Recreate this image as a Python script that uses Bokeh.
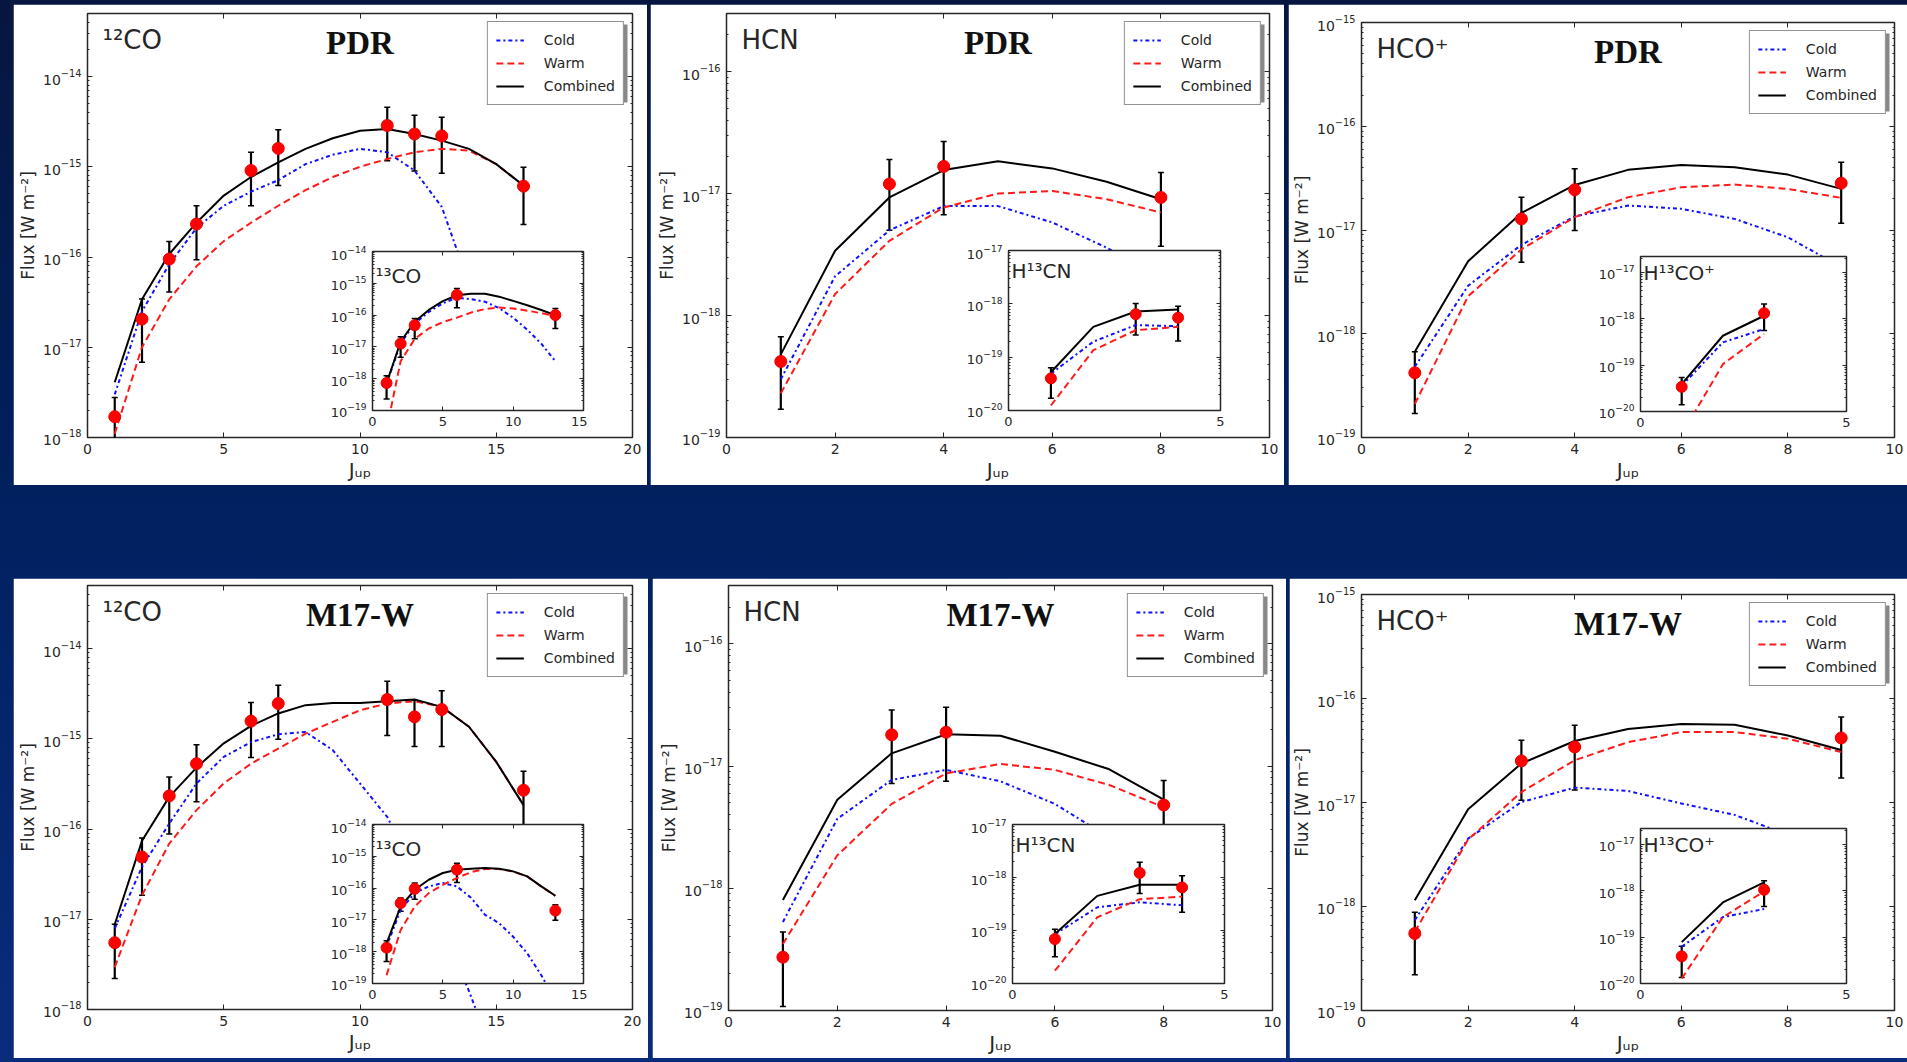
from bokeh.plotting import figure
from bokeh.models import (GridBox, Div, Range1d, FixedTicker, LinearAxis, LogAxis, Label,
                          Legend, LegendItem, Whisker, TeeHead, ColumnDataSource, BoxAnnotation,
                          CustomJSTickFormatter)
from bokeh.embed import file_html
from bokeh.resources import INLINE

# ---------------------------------------------------------------- data
# upper rotational level of each model grid
J_CO = list(range(1, 17))
J_CO13 = list(range(1, 14))
J_HCN = list(range(1, 9))
J_HCO = list(range(1, 10))
J_H13CN = [1, 2, 3, 4]
J_H13CO = [1, 2, 3]

# 12CO, PDR  (fluxes in W m^-2)
co_pdr_cold = [3.0e-18, 2.5e-17, 8.3e-17, 2.1e-16, 3.7e-16, 5.3e-16, 7.1e-16, 1.07e-15,
               1.36e-15, 1.58e-15, 1.45e-15, 9.1e-16, 3.6e-16, 5.0e-17, 1.2e-17, 3.0e-18]
co_pdr_warm = [1.1e-18, 1.0e-17, 3.4e-17, 7.9e-17, 1.5e-16, 2.4e-16, 3.7e-16, 5.5e-16,
               7.7e-16, 1.0e-15, 1.22e-15, 1.45e-15, 1.58e-15, 1.51e-15, 1.07e-15, 6.2e-16]
co_pdr_comb = [4.1e-18, 3.4e-17, 1.08e-16, 2.4e-16, 4.8e-16, 7.7e-16, 1.12e-15, 1.58e-15,
               2.07e-15, 2.51e-15, 2.63e-15, 2.31e-15, 1.95e-15, 1.58e-15, 1.07e-15, 6.2e-16]
co_pdr_obs_j = [1, 2, 3, 4, 6, 7, 11, 12, 13, 16]
co_pdr_obs = [1.7e-18, 2.05e-17, 9.5e-17, 2.32e-16, 9.1e-16, 1.6e-15, 2.87e-15, 2.31e-15, 2.2e-15, 6.1e-16]
co_pdr_err = [1.08e-18, 1.37e-17, 5.4e-17, 1.39e-16, 5.4e-16, 9.8e-16, 1.7e-15, 1.41e-15, 1.35e-15, 3.8e-16]

# 13CO, PDR
co13_pdr_cold = [6.9e-19, 1.29e-17, 5.5e-17, 1.26e-16, 2.34e-16, 3.55e-16, 3.16e-16, 2.63e-16,
                 1.66e-16, 8.3e-17, 3.47e-17, 1.26e-17, 3.55e-18]
co13_pdr_warm = [2.5e-20, 3.55e-18, 1.78e-17, 3.8e-17, 6.0e-17, 8.3e-17, 1.2e-16, 1.55e-16,
                 1.74e-16, 1.62e-16, 1.38e-16, 1.15e-16, 9.3e-17]
co13_pdr_comb = [7.2e-19, 1.45e-17, 6.2e-17, 1.45e-16, 2.75e-16, 4.2e-16, 4.7e-16, 4.7e-16,
                 3.8e-16, 2.8e-16, 2.04e-16, 1.45e-16, 1.0e-16]
co13_pdr_obs_j = [1, 2, 3, 6, 13]
co13_pdr_obs = [7.3e-19, 1.27e-17, 4.8e-17, 4.3e-16, 1.0e-16]
co13_pdr_err = [5.0e-19, 8.0e-18, 3.0e-17, 2.6e-16, 6.2e-17]

# HCN, PDR
hcn_pdr_cold = [3.0e-19, 2.1e-18, 5.0e-18, 7.9e-18, 7.9e-18, 5.8e-18, 3.6e-18, 2.0e-18]
hcn_pdr_warm = [2.3e-19, 1.5e-18, 4.1e-18, 7.7e-18, 1.0e-17, 1.05e-17, 9.0e-18, 7.0e-18]
hcn_pdr_comb = [4.8e-19, 3.4e-18, 9.3e-18, 1.56e-17, 1.84e-17, 1.61e-17, 1.25e-17, 9.0e-18]
hcn_pdr_obs_j = [1, 3, 4, 8]
hcn_pdr_obs = [4.2e-19, 1.2e-17, 1.67e-17, 9.3e-18]
hcn_pdr_err = [2.5e-19, 7.0e-18, 1.0e-17, 5.6e-18]

# H13CN, PDR
h13cn_pdr_cold = [4.9e-20, 1.95e-19, 4.0e-19, 3.8e-19]
h13cn_pdr_warm = [1.24e-20, 1.35e-19, 3.2e-19, 3.7e-19]
h13cn_pdr_comb = [5.2e-20, 3.7e-19, 7.2e-19, 7.8e-19]
h13cn_pdr_obs_j = [1, 3, 4]
h13cn_pdr_obs = [4.0e-20, 6.4e-19, 5.5e-19]
h13cn_pdr_err = [2.3e-20, 3.8e-19, 3.5e-19]

# HCO+, PDR
hco_pdr_cold = [4.8e-19, 2.9e-18, 7.2e-18, 1.35e-17, 1.72e-17, 1.6e-17, 1.28e-17, 8.5e-18, 4.4e-18]
hco_pdr_warm = [2.1e-19, 2.3e-18, 6.5e-18, 1.33e-17, 2.07e-17, 2.58e-17, 2.74e-17, 2.49e-17, 2.04e-17]
hco_pdr_comb = [6.7e-19, 5.0e-18, 1.46e-17, 2.72e-17, 3.8e-17, 4.24e-17, 4.03e-17, 3.42e-17, 2.49e-17]
hco_pdr_obs_j = [1, 3, 4, 9]
hco_pdr_obs = [4.2e-19, 1.28e-17, 2.44e-17, 2.83e-17]
hco_pdr_err = [2.5e-19, 7.9e-18, 1.45e-17, 1.67e-17]

# H13CO+, PDR
h13co_pdr_cold = [3.55e-20, 3.1e-19, 6.0e-19]
h13co_pdr_warm = [3.2e-21, 1.05e-19, 4.7e-19]
h13co_pdr_comb = [3.9e-20, 4.3e-19, 1.16e-18]
h13co_pdr_obs_j = [1, 3]
h13co_pdr_obs = [3.4e-20, 1.32e-18]
h13co_pdr_err = [2.0e-20, 7.6e-19]

# 12CO, M17-W
co_m17_cold = [7.9e-18, 3.8e-17, 1.15e-16, 3.2e-16, 6.3e-16, 9.2e-16, 1.12e-15, 1.19e-15,
               7.5e-16, 3.2e-16, 1.36e-16, 3.5e-17, 7.9e-18, 1.6e-18, 2.5e-19, 3.2e-20]
co_m17_warm = [2.95e-18, 1.85e-17, 6.9e-17, 1.62e-16, 3.2e-16, 5.3e-16, 7.8e-16, 1.14e-15,
               1.54e-15, 2.07e-15, 2.46e-15, 2.61e-15, 2.26e-15, 1.36e-15, 5.55e-16, 1.84e-16]
co_m17_comb = [8.8e-18, 7.4e-17, 2.27e-16, 4.8e-16, 8.9e-16, 1.39e-15, 1.91e-15, 2.36e-15,
               2.5e-15, 2.5e-15, 2.61e-15, 2.72e-15, 2.26e-15, 1.36e-15, 5.55e-16, 1.84e-16]
co_m17_obs_j = [1, 2, 3, 4, 6, 7, 11, 12, 13, 16]
co_m17_obs = [5.5e-18, 4.9e-17, 2.33e-16, 5.3e-16, 1.57e-15, 2.46e-15, 2.72e-15, 1.75e-15, 2.11e-15, 2.69e-16]
co_m17_err = [3.3e-18, 3.06e-17, 1.45e-16, 3.3e-16, 9.5e-16, 1.47e-15, 1.63e-15, 9.3e-16, 1.29e-15, 1.67e-16]

# 13CO, M17-W
co13_m17_cold = [1.45e-18, 2.07e-17, 6.95e-17, 1.13e-16, 1.44e-16, 1.13e-16, 5.0e-17, 1.45e-17,
                 7.9e-18, 2.95e-18, 8.9e-19, 1.82e-19, 2.95e-20]
co13_m17_warm = [1.82e-19, 4.8e-18, 2.64e-17, 6.95e-17, 1.27e-16, 2.07e-16, 3.16e-16, 3.98e-16,
                 3.98e-16, 3.31e-16, 2.32e-16, 1.12e-16, 5.7e-17]
co13_m17_comb = [1.83e-18, 2.64e-17, 8.85e-17, 1.83e-16, 2.98e-16, 3.8e-16, 4.08e-16, 4.29e-16,
                 4.08e-16, 3.36e-16, 2.33e-16, 1.13e-16, 5.73e-17]
co13_m17_obs_j = [1, 2, 3, 6, 13]
co13_m17_obs = [1.34e-18, 3.36e-17, 9.5e-17, 3.8e-16, 1.97e-17]
co13_m17_err = [8.5e-19, 1.5e-17, 5.0e-17, 2.3e-16, 1.0e-17]

# HCN, M17-W
hcn_m17_cold = [5.3e-19, 3.7e-18, 7.7e-18, 9.3e-18, 7.5e-18, 4.9e-18, 2.6e-18, 1.6e-18]
hcn_m17_warm = [3.5e-19, 1.86e-18, 4.9e-18, 8.7e-18, 1.04e-17, 9.3e-18, 7.0e-18, 4.6e-18]
hcn_m17_comb = [8.0e-19, 5.3e-18, 1.27e-17, 1.82e-17, 1.77e-17, 1.31e-17, 9.4e-18, 5.3e-18]
hcn_m17_obs_j = [1, 3, 4, 8]
hcn_m17_obs = [2.73e-19, 1.8e-17, 1.89e-17, 4.8e-18]
hcn_m17_err = [1.65e-19, 1.08e-17, 1.14e-17, 2.8e-18]

# H13CN, M17-W
h13cn_m17_cold = [8.5e-20, 2.74e-19, 3.4e-19, 3.0e-19]
h13cn_m17_warm = [1.74e-20, 1.78e-19, 3.9e-19, 4.35e-19]
h13cn_m17_comb = [8.6e-20, 4.5e-19, 7.3e-19, 7.3e-19]
h13cn_m17_obs_j = [1, 3, 4]
h13cn_m17_obs = [6.9e-20, 1.22e-18, 6.5e-19]
h13cn_m17_err = [3.7e-20, 7.2e-19, 4.3e-19]

# HCO+, M17-W
hco_m17_cold = [7.4e-19, 4.5e-18, 1.01e-17, 1.39e-17, 1.29e-17, 9.8e-18, 7.6e-18, 4.9e-18, 2.6e-18]
hco_m17_warm = [5.7e-19, 4.4e-18, 1.26e-17, 2.55e-17, 3.8e-17, 4.76e-17, 4.76e-17, 4.1e-17, 3.06e-17]
hco_m17_comb = [1.15e-18, 8.6e-18, 2.37e-17, 3.9e-17, 5.1e-17, 5.7e-17, 5.6e-17, 4.4e-17, 3.2e-17]
hco_m17_obs_j = [1, 3, 4, 9]
hco_m17_obs = [5.5e-19, 2.51e-17, 3.42e-17, 4.18e-17]
hco_m17_err = [3.3e-19, 1.46e-17, 2.1e-17, 2.46e-17]

# H13CO+, M17-W
h13co_m17_cold = [6.2e-20, 2.7e-19, 4.05e-19]
h13co_m17_warm = [1.28e-20, 2.7e-19, 9.7e-19]
h13co_m17_comb = [7.8e-20, 5.6e-19, 1.51e-18]
h13co_m17_obs_j = [1, 3]
h13co_m17_obs = [3.85e-20, 1.05e-18]
h13co_m17_err = [2.5e-20, 5.9e-19]

# ---------------------------------------------------------------- styling
SANS = "DejaVu Sans"
SERIF = "Liberation Serif"
INK = "#262626"
COLD = dict(line_color="#1010ff", line_dash="4 3 2 3", line_width=2)
WARM = dict(line_color="#ff1a1a", line_dash="7 4", line_width=2)
COMB = dict(line_color="#000000", line_width=2)
LEG_W, LEG_H, LEG_GAP = 135, 78, 8


def decade_ticker(lo, hi):
    majors = [10.0 ** e for e in range(lo, hi + 1)]
    minors = [m * 10.0 ** e for e in range(lo - 1, hi + 1) for m in range(2, 10)]
    return FixedTicker(ticks=majors, minor_ticks=minors)


def style_axis(ax, ticker, font_px, tick_len):
    ax.ticker = ticker
    ax.axis_line_color = None
    ax.major_tick_in = tick_len
    ax.major_tick_out = 0
    ax.minor_tick_in = 2
    ax.minor_tick_out = 0
    ax.major_tick_line_color = INK
    ax.minor_tick_line_color = INK
    ax.major_label_text_font = SANS
    ax.major_label_text_color = INK
    if font_px:
        ax.major_label_text_font_size = f"{font_px}px"
        ax.major_label_standoff = 6
    else:
        # tick marks only: the opposite edges of the frame carry no numbers
        ax.formatter = CustomJSTickFormatter(code="return ''")
        ax.major_label_text_font_size = "1px"
        ax.major_label_standoff = 0


def framed_axes(p, x_ticks, y_lo, y_hi, font_px, tick_len):
    xt = FixedTicker(ticks=x_ticks, minor_ticks=[])
    yt = decade_ticker(y_lo, y_hi)
    style_axis(p.below[0], xt, font_px, tick_len)
    style_axis(p.left[0], yt, font_px, tick_len)
    top = LinearAxis()
    right = LogAxis()
    style_axis(top, xt, 0, tick_len)
    style_axis(right, yt, 0, tick_len)
    p.add_layout(top, "above")
    p.add_layout(right, "right")
    p.xgrid.visible = False
    p.ygrid.visible = False
    p.outline_line_color = INK
    p.outline_line_width = 1.5


def draw_series(p, j_model, cold, warm, comb, obs_j, obs_f, obs_e, marker):
    rc = p.line(j_model, cold, **COLD)
    rw = p.line(j_model, warm, **WARM)
    rk = p.line(j_model, comb, **COMB)
    src = ColumnDataSource(dict(
        j=obs_j, f=obs_f,
        upper=[f + e for f, e in zip(obs_f, obs_e)],
        lower=[f - e for f, e in zip(obs_f, obs_e)],
    ))
    p.add_layout(Whisker(source=src, base="j", upper="upper", lower="lower",
                         line_color="black", line_width=2.2,
                         upper_head=TeeHead(size=6, line_color="black", line_width=1.5),
                         lower_head=TeeHead(size=6, line_color="black", line_width=1.5)))
    p.scatter("j", "f", source=src, size=marker, fill_color="#ff0000", line_color="#ee0000")
    return rc, rw, rk


def text_label(p, x, y, text, size, font=SANS, style="normal", align="left", color=INK):
    p.add_layout(Label(x=x, y=y, x_units="screen", y_units="screen", text=text,
                       text_font=font, text_font_size=f"{size}px", text_font_style=style,
                       text_align=align, text_baseline="alphabetic", text_color=color))


def build_main(box, frame, x_end, x_ticks, y_lo, y_hi, y_top, series, species, region):
    bl, bt, br, bb = box
    fl, ft, fr, fb = frame
    fw, fh = fr - fl, fb - ft
    p = figure(width=br - bl, height=bb - bt,
               x_range=Range1d(-1e-4, x_end + 1e-4),
               y_range=Range1d(10.0 ** y_lo * 0.9995, y_top),
               y_axis_type="log", output_backend="svg", toolbar_location=None,
               min_border_left=fl - bl, min_border_right=br - fr,
               min_border_top=ft - bt, min_border_bottom=bb - fb,
               background_fill_color="white", border_fill_color="white")
    p.frame_align = False
    p.margin = (bt, 0, 0, bl)
    framed_axes(p, x_ticks, y_lo, y_hi, 14, 5)
    ax = p.left[0]
    ax.axis_label = "Flux [W m\u207b\u00b2]"
    ax.axis_label_text_font = SANS
    ax.axis_label_text_font_size = "17px"
    ax.axis_label_text_font_style = "normal"
    ax.axis_label_text_color = INK
    ax.axis_label_standoff = 2
    bx = p.below[0]
    bx.axis_label = "J\u1d64\u209a"
    bx.axis_label_text_font = SANS
    bx.axis_label_text_font_size = "20px"
    bx.axis_label_text_font_style = "normal"
    bx.axis_label_text_color = INK
    bx.axis_label_standoff = 1

    rc, rw, rk = draw_series(p, *series, marker=12)

    # legend with a drop shadow
    p.add_layout(BoxAnnotation(left=fw - LEG_GAP - LEG_W + 3, right=fw - LEG_GAP + 3,
                               top=fh - LEG_GAP - 3, bottom=fh - LEG_GAP - LEG_H - 3,
                               left_units="screen", right_units="screen",
                               top_units="screen", bottom_units="screen",
                               fill_color="#6a6a6a", fill_alpha=0.8, line_color=None))
    legend = Legend(items=[LegendItem(label="Cold", renderers=[rc]),
                           LegendItem(label="Warm", renderers=[rw]),
                           LegendItem(label="Combined", renderers=[rk])],
                    location="top_right", margin=LEG_GAP, padding=8, spacing=3,
                    glyph_width=28, glyph_height=20, label_height=20, label_standoff=20,
                    label_text_font=SANS, label_text_font_size="14px", label_text_color=INK,
                    border_line_color=INK, border_line_width=1.5,
                    background_fill_color="white", background_fill_alpha=1.0)
    p.add_layout(legend)

    text_label(p, 15, fh - 26, species, 26)
    text_label(p, fw / 2, fh - 29, region, 33, font=SERIF, style="bold", align="center", color="#111111")
    return p


def build_inset(frame, x_end, x_ticks, y_lo, y_hi, y_top, series, species, label_drop):
    fl, ft, fr, fb = frame
    bl_, br_, bt_, bb_ = 54, 4, 6, 28
    fh = fb - ft
    p = figure(width=fr - fl + bl_ + br_, height=fb - ft + bt_ + bb_,
               x_range=Range1d(-1e-4, x_end + 1e-4),
               y_range=Range1d(10.0 ** y_lo * 0.9995, y_top),
               y_axis_type="log", output_backend="svg", toolbar_location=None,
               min_border_left=bl_, min_border_right=br_,
               min_border_top=bt_, min_border_bottom=bb_,
               background_fill_color="white")
    p.frame_align = False
    p.border_fill_alpha = 0.0
    p.margin = (ft - bt_, 0, 0, fl - bl_)
    framed_axes(p, x_ticks, y_lo, y_hi, 13, 4)
    draw_series(p, *series, marker=11)
    text_label(p, 3, fh - label_drop, species, 20)
    return p


# ---------------------------------------------------------------- panels
panels = [
    dict(box=(13, 4, 647, 485), frame=(87, 13, 632, 437), x_end=20, x_ticks=[0, 5, 10, 15, 20],
         y=(-18, -14), y_top=5e-14, species="\u00b9\u00b2CO", region="PDR",
         series=(J_CO, co_pdr_cold, co_pdr_warm, co_pdr_comb, co_pdr_obs_j, co_pdr_obs, co_pdr_err),
         inset=dict(frame=(372, 251, 583, 410), x_end=15, x_ticks=[0, 5, 10, 15], y=(-19, -14),
                    y_top=1.0005e-14, species="\u00b9\u00b3CO", drop=24,
                    series=(J_CO13, co13_pdr_cold, co13_pdr_warm, co13_pdr_comb,
                            co13_pdr_obs_j, co13_pdr_obs, co13_pdr_err))),
    dict(box=(650, 4, 1284, 485), frame=(726, 13, 1269, 437), x_end=10, x_ticks=[0, 2, 4, 6, 8, 10],
         y=(-19, -16), y_top=3e-16, species="HCN", region="PDR",
         series=(J_HCN, hcn_pdr_cold, hcn_pdr_warm, hcn_pdr_comb, hcn_pdr_obs_j, hcn_pdr_obs, hcn_pdr_err),
         inset=dict(frame=(1008, 250, 1220, 410), x_end=5, x_ticks=[0, 5], y=(-20, -17),
                    y_top=1.0005e-17, species="H\u00b9\u00b3CN", drop=20,
                    series=(J_H13CN, h13cn_pdr_cold, h13cn_pdr_warm, h13cn_pdr_comb,
                            h13cn_pdr_obs_j, h13cn_pdr_obs, h13cn_pdr_err))),
    dict(box=(1288, 4, 1907, 485), frame=(1361, 22, 1894, 437), x_end=10, x_ticks=[0, 2, 4, 6, 8, 10],
         y=(-19, -15), y_top=1.0005e-15, species="HCO\u207a", region="PDR",
         series=(J_HCO, hco_pdr_cold, hco_pdr_warm, hco_pdr_comb, hco_pdr_obs_j, hco_pdr_obs, hco_pdr_err),
         inset=dict(frame=(1640, 256, 1846, 411), x_end=5, x_ticks=[0, 5], y=(-20, -17),
                    y_top=2.2e-17, species="H\u00b9\u00b3CO\u207a", drop=16,
                    series=(J_H13CO, h13co_pdr_cold, h13co_pdr_warm, h13co_pdr_comb,
                            h13co_pdr_obs_j, h13co_pdr_obs, h13co_pdr_err))),
    dict(box=(13, 578, 648, 1058), frame=(87, 585, 632, 1009), x_end=20, x_ticks=[0, 5, 10, 15, 20],
         y=(-18, -14), y_top=5e-14, species="\u00b9\u00b2CO", region="M17-W",
         series=(J_CO, co_m17_cold, co_m17_warm, co_m17_comb, co_m17_obs_j, co_m17_obs, co_m17_err),
         inset=dict(frame=(372, 824, 583, 983), x_end=15, x_ticks=[0, 5, 10, 15], y=(-19, -14),
                    y_top=1.0005e-14, species="\u00b9\u00b3CO", drop=24,
                    series=(J_CO13, co13_m17_cold, co13_m17_warm, co13_m17_comb,
                            co13_m17_obs_j, co13_m17_obs, co13_m17_err))),
    dict(box=(652, 578, 1286, 1058), frame=(728, 585, 1272, 1010), x_end=10, x_ticks=[0, 2, 4, 6, 8, 10],
         y=(-19, -16), y_top=3e-16, species="HCN", region="M17-W",
         series=(J_HCN, hcn_m17_cold, hcn_m17_warm, hcn_m17_comb, hcn_m17_obs_j, hcn_m17_obs, hcn_m17_err),
         inset=dict(frame=(1012, 824, 1224, 983), x_end=5, x_ticks=[0, 5], y=(-20, -17),
                    y_top=1.0005e-17, species="H\u00b9\u00b3CN", drop=20,
                    series=(J_H13CN, h13cn_m17_cold, h13cn_m17_warm, h13cn_m17_comb,
                            h13cn_m17_obs_j, h13cn_m17_obs, h13cn_m17_err))),
    dict(box=(1289, 578, 1907, 1058), frame=(1361, 594, 1894, 1010), x_end=10, x_ticks=[0, 2, 4, 6, 8, 10],
         y=(-19, -15), y_top=1.0005e-15, species="HCO\u207a", region="M17-W",
         series=(J_HCO, hco_m17_cold, hco_m17_warm, hco_m17_comb, hco_m17_obs_j, hco_m17_obs, hco_m17_err),
         inset=dict(frame=(1640, 828, 1846, 983), x_end=5, x_ticks=[0, 5], y=(-20, -17),
                    y_top=2.2e-17, species="H\u00b9\u00b3CO\u207a", drop=16,
                    series=(J_H13CO, h13co_m17_cold, h13co_m17_warm, h13co_m17_comb,
                            h13co_m17_obs_j, h13co_m17_obs, h13co_m17_err))),
]

backdrop = Div(width=1907, height=1062, margin=(0, 0, 0, 0),
               styles={"background": "linear-gradient(180deg, #071640 0%, #00205e 45%, #0a2c7c 100%)"})
children = [(backdrop, 0, 0)]
for spec in panels:
    main = build_main(spec["box"], spec["frame"], spec["x_end"], spec["x_ticks"],
                      spec["y"][0], spec["y"][1], spec["y_top"], spec["series"],
                      spec["species"], spec["region"])
    ins = spec["inset"]
    inset = build_inset(ins["frame"], ins["x_end"], ins["x_ticks"], ins["y"][0], ins["y"][1],
                        ins["y_top"], ins["series"], ins["species"], ins["drop"])
    children.append((main, 0, 0))
    children.append((inset, 0, 0))

page = GridBox(children=children, width=1907, height=1062)

open("out.html", "w").write(file_html(page, INLINE))
